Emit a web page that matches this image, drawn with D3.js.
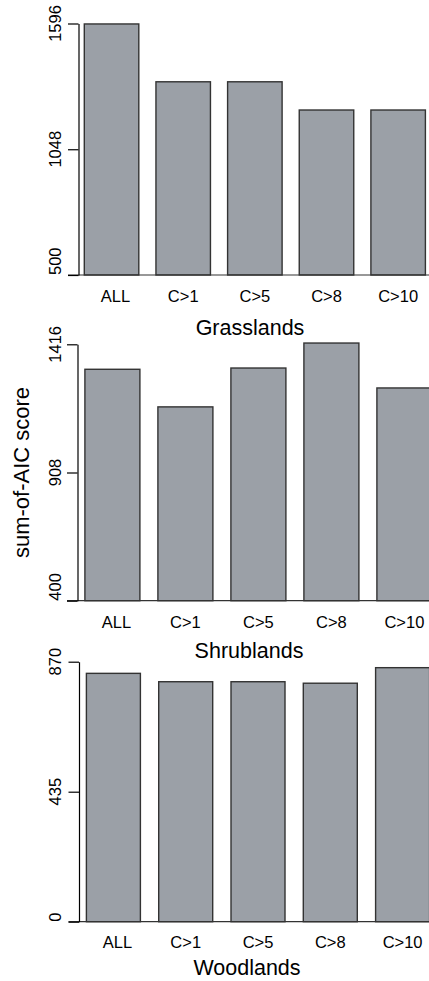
<!DOCTYPE html>
<html>
<head>
<meta charset="utf-8">
<script src="https://cdn.jsdelivr.net/npm/d3@7"></script>
<style>
  body { margin: 0; background: #fff; }
  svg { display: block; }
  text { font-family: "Liberation Sans", Arial, sans-serif; fill: #000; }
</style>
</head>
<body>
<div id="chart"></div>
<script>
var categories = ["ALL", "C>1", "C>5", "C>8", "C>10"];

var grasslands = [1594, 1342, 1342, 1219, 1219];
var shrublands = [1317, 1168, 1322, 1421, 1243];
var woodlands = [831, 803, 803, 798, 850];

var grassTicks = [500, 1048, 1596];
var shrubTicks = [400, 908, 1416];
var woodTicks = [0, 435, 870];

var W = 429, H = 981;
var BAR_FILL = "#9ba0a7";

var svg = d3.select("#chart").append("svg")
        .attr("width", W)
        .attr("height", H);

// per-panel layout
var panels = [
        { title: "Grasslands", values: grasslands, ticks: grassTicks,
          top: 23.5, bottom: 275, axisX: 78.5, start: 84.3, step: 71.65, bw: 54.5,
          catY: 301.5, titleY: 335, titleX: 250 },
        { title: "Shrublands", values: shrublands, ticks: shrubTicks,
          top: 344.3, bottom: 600.7, axisX: 77.5, start: 84.9, step: 73, bw: 55,
          catY: 628, titleY: 658, titleX: 249 },
        { title: "Woodlands", values: woodlands, ticks: woodTicks,
          top: 661.7, bottom: 921.7, axisX: 79, start: 86.4, step: 72.3, bw: 54,
          catY: 947.5, titleY: 975, titleX: 247 }
];

function drawPanel(p) {
        var g = svg.append("g");
        var pi = 1 - p.bw / p.step;
        var r0 = p.start - p.step * pi / 2;

        var x = d3.scaleBand()
                .domain(categories)
                .range([r0, r0 + categories.length * p.step])
                .paddingInner(pi)
                .paddingOuter(pi / 2);

        var y = d3.scaleLinear()
                .domain([p.ticks[0], p.ticks[p.ticks.length - 1]])
                .range([p.bottom, p.top]);

        // bars
        g.selectAll("rect.bar")
                .data(p.values)
                .enter().append("rect")
                .attr("class", "bar")
                .attr("x", function(d, i) { return x(categories[i]); })
                .attr("y", function(d) { return y(d); })
                .attr("width", x.bandwidth())
                .attr("height", function(d) { return y(p.ticks[0]) - y(d); })
                .style("fill", BAR_FILL)
                .style("stroke", "#333")
                .style("stroke-width", "1.4px");

        // baseline under the bars
        g.append("line")
                .attr("x1", p.axisX - 10.5)
                .attr("x2", W)
                .attr("y1", y(p.ticks[0]))
                .attr("y2", y(p.ticks[0]))
                .style("stroke", "#333")
                .style("stroke-width", "1.2px");

        // y axis
        var ax = g.append("g")
                .attr("transform", "translate(" + p.axisX + ",0)")
                .call(d3.axisLeft(y).tickValues(p.ticks).tickSize(10.5).tickSizeOuter(0).tickFormat(""));
        ax.selectAll("path, line").style("stroke", "#000").style("stroke-width", "1.2px");

        // rotated tick labels, lowest one sits above its tick
        p.ticks.forEach(function(t, i) {
                g.append("text")
                        .attr("transform", "translate(61," + y(t) + ") rotate(-90)")
                        .attr("text-anchor", i == 0 ? "start" : "middle")
                        .style("font-size", "16.5px")
                        .text(t);
        });

        // category labels
        g.selectAll("text.cat")
                .data(categories)
                .enter().append("text")
                .attr("class", "cat")
                .attr("x", function(d) { return x(d) + x.bandwidth() / 2 + (d == "ALL" ? 4 : 0); })
                .attr("y", p.catY)
                .attr("text-anchor", "middle")
                .style("font-size", "16.5px")
                .text(function(d) { return d; });

        g.append("text")
                .attr("x", p.titleX)
                .attr("y", p.titleY)
                .attr("text-anchor", "middle")
                .style("font-size", "21.5px")
                .text(p.title);
}

panels.forEach(drawPanel);

svg.append("text")
        .attr("transform", "translate(29,472.5) rotate(-90)")
        .attr("text-anchor", "middle")
        .style("font-size", "22px")
        .text("sum-of-AIC score");
</script>
</body>
</html>
